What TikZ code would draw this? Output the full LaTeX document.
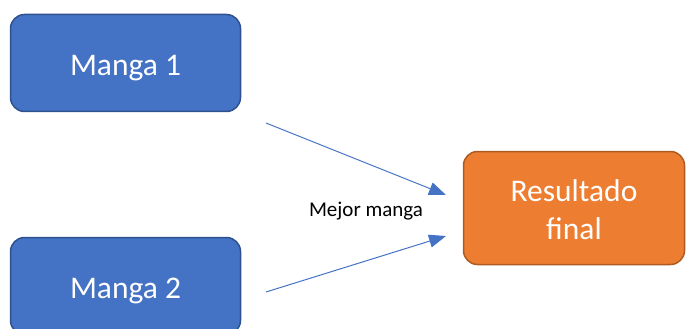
\documentclass[tikz,border=0pt]{standalone}
\usepackage{fontspec}
\setmainfont{Carlito}
\usetikzlibrary{arrows.meta}
\definecolor{bluefill}{HTML}{4472C4}
\definecolor{blueborder}{HTML}{2F528F}
\definecolor{orangefill}{HTML}{ED7D31}
\definecolor{orangeborder}{HTML}{AE5A21}
\newcommand{\lowertext}[1]{\raisebox{-5pt}[\height][\depth]{#1}}
\tikzset{
  bluebox/.style={draw=blueborder, fill=bluefill, line width=1.5pt, rounded corners=14pt,
    minimum width=230pt, minimum height=97pt, text=white, align=center,
    font=\fontsize{31.5pt}{38.5pt}\selectfont, inner sep=0pt},
  orangebox/.style={bluebox, draw=orangeborder, fill=orangefill, minimum width=221pt, minimum height=113pt},
  conn/.style={draw=bluefill, line width=1pt, -{Triangle[length=17pt,width=13pt]}},
  lbl/.style={font=\fontsize{21pt}{25pt}\selectfont, text=black, inner sep=0pt}
}
\begin{document}
\begin{tikzpicture}[x=1pt,y=-1pt]
\useasboundingbox (0,0) rectangle (686,329);
\clip (0,0) rectangle (686,329);
\node[bluebox] (m1) at (125.5,63) {\lowertext{Manga 1}};
\node[bluebox] (m2) at (125.5,286) {\lowertext{Manga 2}};
\node[orangebox] (rf) at (574,208) {\lowertext{\begin{tabular}{@{}c@{}}Resultado\\final\end{tabular}}};
\coordinate (s1) at (266,123);
\coordinate (e1) at (446,195);
\coordinate (s2) at (266,292);
\coordinate (e2) at (446,236);
\draw[conn] (s1) -- (e1);
\draw[conn] (s2) -- (e2);
\node[lbl] (lab) at (366,211) {Mejor manga};
\end{tikzpicture}
\end{document}
